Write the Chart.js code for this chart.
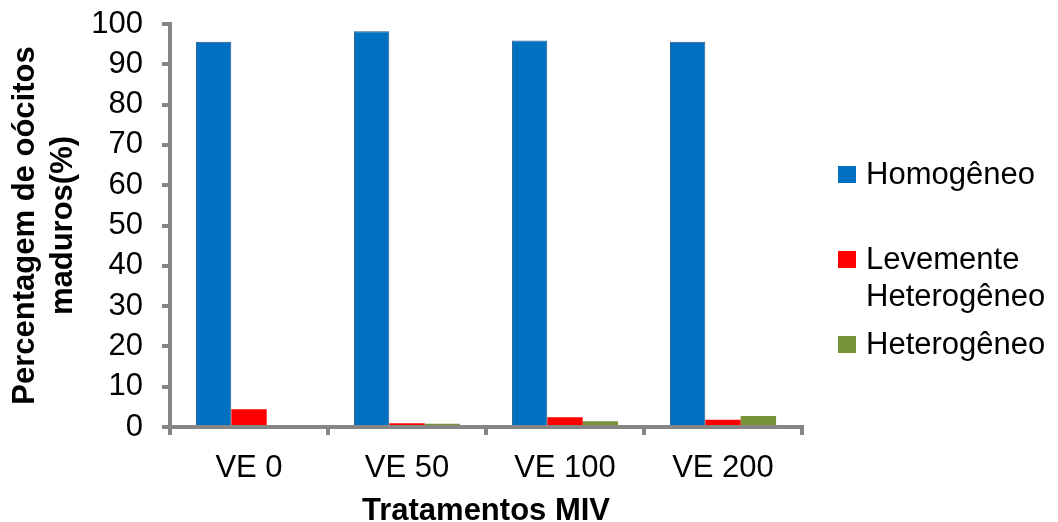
<!DOCTYPE html>
<html lang="pt">
<head>
    <meta charset="UTF-8">
    <title>Percentagem de oócitos maduros</title>
    <script src="https://cdn.jsdelivr.net/npm/chart.js"></script>
    <style>
        body { margin: 0; background: #fff; }
        #wrap { position: relative; width: 1058px; height: 522px; overflow: hidden; }
        #legend { position: absolute; left: 838px; top: 0; font-family: "Liberation Sans", Arial, sans-serif; font-size: 31px; color: #000; }
        .item { position: absolute; left: 0; white-space: nowrap; line-height: 37px; height: 37px; }
        .box { position: absolute; left: 0; width: 18px; height: 17px; }
        .txt { position: absolute; left: 28px; top: 0; }
    </style>
</head>
<body>
<div id="wrap">
    <canvas id="chart" width="1058" height="522"></canvas>
    <div id="legend"></div>
</div>
<script>
    // data
    const categories = ['VE 0', 'VE 50', 'VE 100', 'VE 200'];
    const homogeneo = [95.6, 98.2, 95.9, 95.6];
    const levemente = [4.4, 0.9, 2.4, 1.8];
    const heterogeneo = [0, 0.8, 1.4, 2.7];
    const seriesNames = ['Homogêneo', ['Levemente', 'Heterogêneo'], 'Heterogêneo'];
    const colors = ['#0070C0', '#FF0000', '#77933C'];

    const axisColor = '#868686';
    const font = '"Liberation Sans", Arial, sans-serif';

    const ctx = document.getElementById('chart').getContext('2d');
    new Chart(ctx, {
        type: 'bar',
        data: {
            labels: categories,
            datasets: [
                { label: 'Homogêneo', data: homogeneo, backgroundColor: colors[0], borderColor: '#24588c', borderWidth: 1 },
                { label: 'Levemente Heterogêneo', data: levemente, backgroundColor: colors[1] },
                { label: 'Heterogêneo', data: heterogeneo, backgroundColor: colors[2] }
            ]
        },
        options: {
            responsive: false,
            animation: false,
            layout: { padding: { top: 0, right: 256, bottom: 0, left: 6 } },
            plugins: { legend: { display: false }, tooltip: { enabled: false } },
            datasets: { bar: { categoryPercentage: 0.672, barPercentage: 1 } },
            scales: {
                x: {
                    border: { color: axisColor, width: 4 },
                    grid: { drawOnChartArea: false, drawTicks: true, tickLength: 8, color: axisColor, lineWidth: 4, offset: true },
                    ticks: { color: '#000', font: { family: font, size: 31 }, padding: 15, autoSkip: false, maxRotation: 0 },
                    title: { display: true, text: 'Tratamentos MIV', color: '#000', font: { family: font, size: 31, weight: 'bold' }, padding: { top: 0, bottom: -8 } },
                    afterFit: (scale) => { scale.height = 95; }
                },
                y: {
                    min: 0, max: 100,
                    border: { color: axisColor, width: 4 },
                    grid: { drawOnChartArea: false, drawTicks: true, tickLength: 8, color: axisColor, lineWidth: 4 },
                    ticks: { stepSize: 10, color: '#000', font: { family: font, size: 31 }, padding: 19, autoSkip: false },
                    title: { display: true, text: ['Percentagem de oócitos', 'maduros(%)'], color: '#000', font: { family: font, size: 31, weight: 'bold', lineHeight: 1.24 }, padding: { top: 0, bottom: 6 } },
                    afterFit: (scale) => { scale.width = 164; scale.paddingTop = 24; }
                }
            }
        }
    });

    // legend on the right, built from the series names and colours
    const legend = document.getElementById('legend');
    const rows = [155, 240, 325];
    seriesNames.forEach((name, i) => {
        const lines = Array.isArray(name) ? name : [name];
        lines.forEach((line, j) => {
            const item = document.createElement('div');
            item.className = 'item';
            item.style.top = (rows[i] + j * 37) + 'px';
            item.style.width = '230px';
            item.innerHTML = (j === 0 ? '<span class="box" style="top:11px;background:' + colors[i] + '"></span>' : '') +
                '<span class="txt">' + line + '</span>';
            legend.appendChild(item);
        });
    });
</script>
</body>
</html>
